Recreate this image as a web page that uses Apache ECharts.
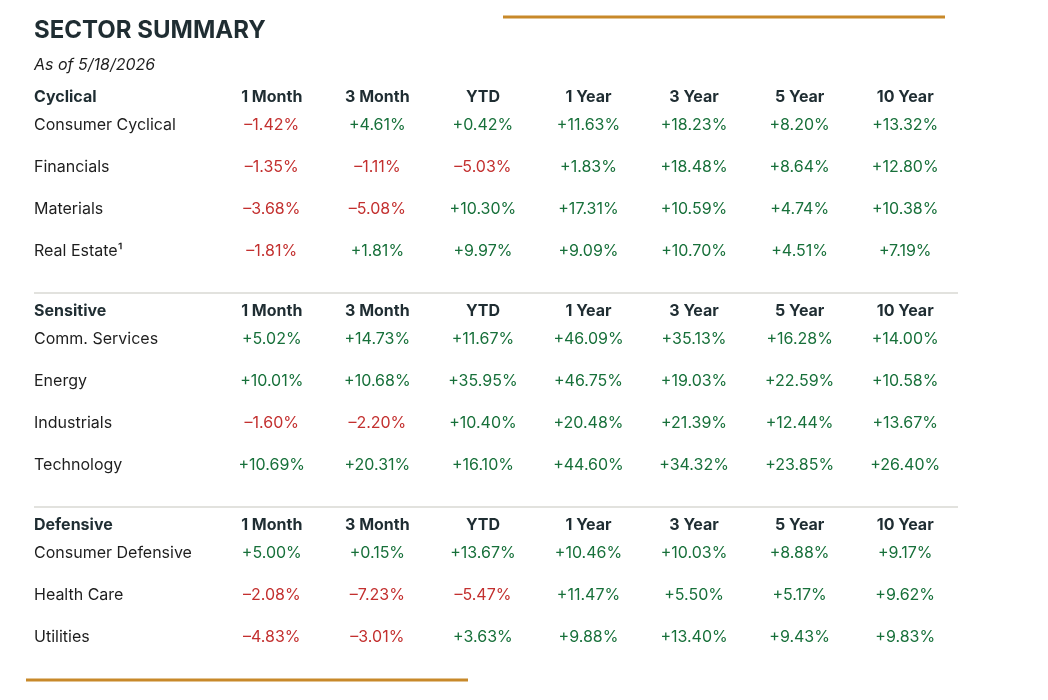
<!DOCTYPE html>
<html>
<head>
<meta charset="utf-8">
<title>Sector Summary</title>
<script src="https://cdn.jsdelivr.net/npm/echarts@6/dist/echarts.min.js"></script>
<style>
  html, body { margin: 0; padding: 0; background: #fff; }
  #chart { width: 1048px; height: 700px; }
</style>
</head>
<body>
<div id="chart"></div>
<script>
// column headers, shared by all three sections
const periods = ["1 Month", "3 Month", "YTD", "1 Year", "3 Year", "5 Year", "10 Year"]

const sectionNames = ["Cyclical", "Sensitive", "Defensive"]

const cyclicalRows = ["Consumer Cyclical", "Financials", "Materials", "Real Estate\u00b9"]
const cyclicalValues = [
  [-1.42, 4.61, 0.42, 11.63, 18.23, 8.20, 13.32],
  [-1.35, -1.11, -5.03, 1.83, 18.48, 8.64, 12.80],
  [-3.68, -5.08, 10.30, 17.31, 10.59, 4.74, 10.38],
  [-1.81, 1.81, 9.97, 9.09, 10.70, 4.51, 7.19]
]

const sensitiveRows = ["Comm. Services", "Energy", "Industrials", "Technology"]
const sensitiveValues = [
  [5.02, 14.73, 11.67, 46.09, 35.13, 16.28, 14.00],
  [10.01, 10.68, 35.95, 46.75, 19.03, 22.59, 10.58],
  [-1.60, -2.20, 10.40, 20.48, 21.39, 12.44, 13.67],
  [10.69, 20.31, 16.10, 44.60, 34.32, 23.85, 26.40]
]

const defensiveRows = ["Consumer Defensive", "Health Care", "Utilities"]
const defensiveValues = [
  [5.00, 0.15, 13.67, 10.46, 10.03, 8.88, 9.17],
  [-2.08, -7.23, -5.47, 11.47, 5.50, 5.17, 9.62],
  [-4.83, -3.01, 3.63, 9.88, 13.40, 9.43, 9.83]
]

const FONT = "Inter, 'Noto Sans', sans-serif"
const DARK = "#1f2d32"
const RED = "#c3302f"
const GREEN = "#17703a"
const GOLD = "#c8892a"
const RULE = "#e2e2de"

const sections = [
  { name: sectionNames[0], rows: cyclicalRows, values: cyclicalValues, top: 104 },
  { name: sectionNames[1], rows: sensitiveRows, values: sensitiveValues, top: 318 },
  { name: sectionNames[2], rows: defensiveRows, values: defensiveValues, top: 532 }
]
const ROW_H = 42

const fmt = v => (v < 0 ? "\u2013" : "+") + Math.abs(v).toFixed(2) + "%"

const grid = [], xAxis = [], yAxis = [], series = []
sections.forEach((s, i) => {
  grid.push({ left: 219, width: 739, top: s.top, height: ROW_H * s.rows.length })
  xAxis.push({
    gridIndex: i,
    type: "category",
    data: periods,
    position: "top",
    axisLine: { show: false },
    axisTick: { show: false },
    splitLine: { show: false },
    axisLabel: {
      margin: 7,
      verticalAlign: "middle",
      fontFamily: FONT,
      fontSize: 16,
      fontWeight: "bold",
      color: DARK
    }
  })
  yAxis.push({
    gridIndex: i,
    type: "category",
    data: s.rows,
    inverse: true,
    offset: 185,
    name: s.name,
    nameLocation: "start",
    nameGap: 7,
    nameTextStyle: {
      align: "left",
      verticalAlign: "middle",
      fontFamily: FONT,
      fontSize: 16,
      fontWeight: "bold",
      color: DARK
    },
    axisLine: { show: false },
    axisTick: { show: false },
    splitLine: { show: false },
    axisLabel: {
      margin: 0,
      align: "left",
      fontFamily: FONT,
      fontSize: 16,
      color: "#1e1e1e"
    }
  })
  const data = []
  s.values.forEach((row, r) => {
    row.forEach((v, c) => {
      data.push({
        value: [c, r, v],
        label: { color: v < 0 ? RED : GREEN }
      })
    })
  })
  series.push({
    type: "scatter",
    xAxisIndex: i,
    yAxisIndex: i,
    symbolSize: 0,
    silent: true,
    itemStyle: { opacity: 1 },
    data: data,
    label: {
      show: true,
      position: "inside",
      fontFamily: FONT,
      fontSize: 16,
      formatter: p => fmt(p.value[2])
    }
  })
})

const chart = echarts.init(document.getElementById("chart"))
chart.setOption({
  backgroundColor: "#fff",
  animation: false,
  title: {
    text: "SECTOR SUMMARY",
    subtext: "As of 5/18/2026",
    left: 34,
    top: 19,
    padding: 0,
    itemGap: 14,
    textStyle: { fontFamily: FONT, fontSize: 24, fontWeight: "bold", color: DARK },
    subtextStyle: { fontFamily: FONT, fontSize: 16, fontStyle: "italic", color: "#1e1e1e" }
  },
  grid: grid,
  xAxis: xAxis,
  yAxis: yAxis,
  series: series,
  graphic: [
    { type: "line", shape: { x1: 503, y1: 17, x2: 945, y2: 17 }, style: { stroke: GOLD, lineWidth: 3 } },
    { type: "line", shape: { x1: 26, y1: 680, x2: 468, y2: 680 }, style: { stroke: GOLD, lineWidth: 3 } },
    { type: "line", shape: { x1: 34, y1: 293, x2: 958, y2: 293 }, style: { stroke: RULE, lineWidth: 2 } },
    { type: "line", shape: { x1: 34, y1: 507, x2: 958, y2: 507 }, style: { stroke: RULE, lineWidth: 2 } }
  ]
})
</script>
</body>
</html>
